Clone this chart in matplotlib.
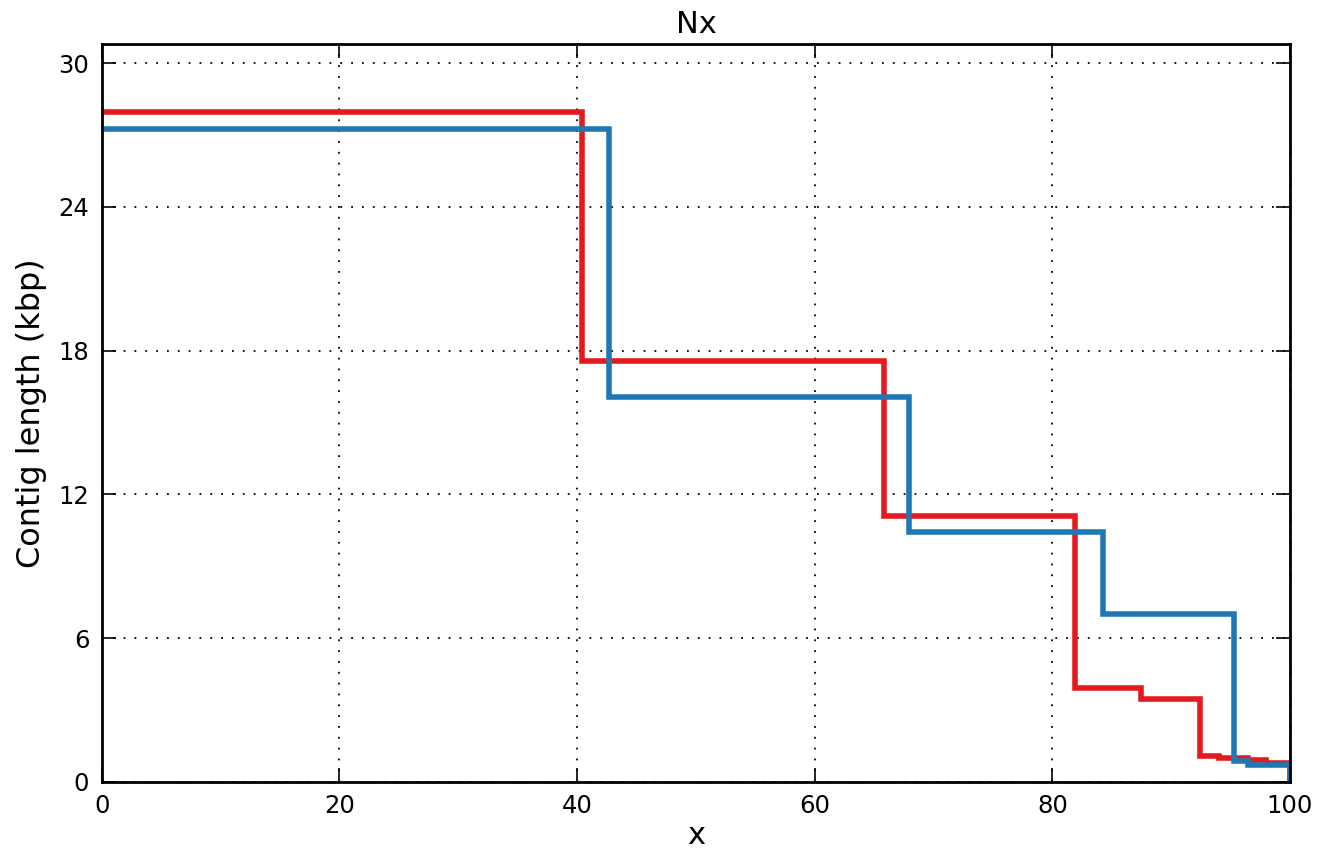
import numpy as np
import matplotlib.pyplot as plt

# Nx curves: x edges (%) and contig length (kbp) for each step
red_edges = [0, 40.4, 65.8, 81.9, 87.5, 92.4, 94.0, 96.5, 98.0, 100]
red_len = [27.95, 17.55, 11.1, 3.9, 3.45, 1.08, 1.0, 0.9, 0.8]
blue_edges = [0, 42.7, 67.9, 84.3, 95.3, 96.5, 100]
blue_len = [27.25, 16.05, 10.45, 7.0, 0.85, 0.7]

yticks = [0, 6, 12, 18, 24, 30]
xticks = [0, 20, 40, 60, 80, 100]


def step_xy(edges, vals):
    # post step, dropping to zero at the last edge
    x = list(edges) + [edges[-1]]
    y = list(vals) + [vals[-1], 0]
    return x, y


fig = plt.figure(figsize=(13.23, 8.48), dpi=100)
ax = fig.add_axes([0.077, 0.078, 0.898, 0.870])

xr, yr = step_xy(red_edges, red_len)
xb, yb = step_xy(blue_edges, blue_len)
ax.step(xr, yr, where="post", color="#e41a1c", lw=4.0, solid_joinstyle="miter")
ax.step(xb, yb, where="post", color="#1f78b4", lw=4.0, solid_joinstyle="miter")

ax.set_xlim(0, 100)
ax.set_ylim(0, 30.8)
ax.set_xticks(xticks)
ax.set_yticks(yticks)
ax.tick_params(direction="in", length=10, width=1.2, top=True, right=True,
               labelsize=17.5, pad=9)
ax.grid(True, color="black", linestyle=(0, (1, 5)), lw=1.3)
for s in ax.spines.values():
    s.set_linewidth(2)

ax.set_title("Nx", fontsize=22, pad=8)
ax.set_xlabel("x", fontsize=22, labelpad=2)
ax.set_ylabel("Contig length (kbp)", fontsize=23, labelpad=8)

fig.savefig("out.png", dpi=100)
